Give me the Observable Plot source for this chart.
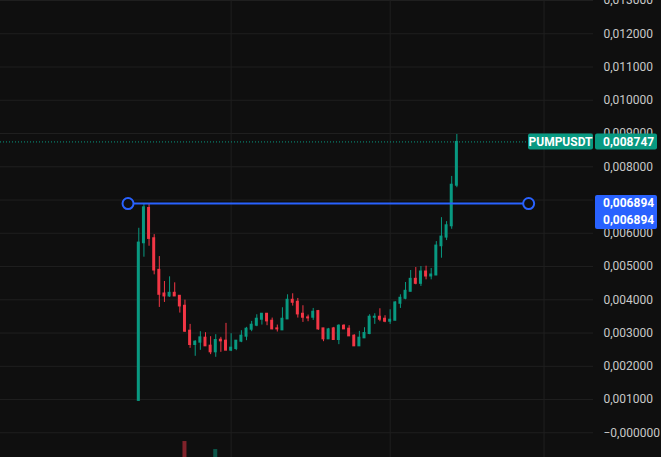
<!DOCTYPE html>
<html>
<head>
<meta charset="utf-8">
<script src="https://cdn.jsdelivr.net/npm/d3@7"></script>
<script src="https://cdn.jsdelivr.net/npm/@observablehq/plot@0.6"></script>
<style>
  html, body { margin: 0; padding: 0; background: #0f0f0f; }
  #chart { width: 661px; height: 457px; overflow: hidden; }
  svg { display: block; }
</style>
</head>
<body>
<div id="chart"></div>
<script>
// ---- Data (daily candles, prices in USDT) ----
const symbol = "PUMPUSDT";
const opens  = [0.00096,0.00570,0.00676,0.00585,0.00490,0.00419,0.00410,0.00421,0.00412,0.00382,
                0.00307,0.00264,0.00271,0.00286,0.00262,0.00242,0.00280,0.00277,0.00247,0.00252,
                0.00274,0.00289,0.00310,0.00322,0.00340,0.00358,0.00337,0.00314,0.00308,0.00341,
                0.00400,0.00394,0.00358,0.00347,0.00346,0.00366,0.00314,0.00281,0.00314,0.00279,
                0.00322,0.00313,0.00292,0.00260,0.00284,0.00297,0.00346,0.00349,0.00343,0.00334,
                0.00337,0.00388,0.00403,0.00424,0.00463,0.00448,0.00485,0.00470,0.00473,0.00561,
                0.00587,0.00621,0.00743];
const highs  = [0.00615,0.00689,0.00689,0.00596,0.00530,0.00455,0.00469,0.00451,0.00412,0.00399,
                0.00326,0.00277,0.00304,0.00301,0.00289,0.00295,0.00287,0.00329,0.00298,0.00277,
                0.00307,0.00317,0.00335,0.00355,0.00358,0.00358,0.00345,0.00324,0.00376,0.00415,
                0.00418,0.00404,0.00382,0.00354,0.00374,0.00368,0.00314,0.00314,0.00317,0.00325,
                0.00325,0.00322,0.00295,0.00305,0.00316,0.00355,0.00358,0.00373,0.00352,0.00370,
                0.00394,0.00415,0.00452,0.00488,0.00497,0.00500,0.00501,0.00494,0.00575,0.00647,
                0.00635,0.00771,0.00897];
const lows   = [0.00095,0.00528,0.00561,0.00475,0.00377,0.00392,0.00407,0.00410,0.00360,0.00302,
                0.00254,0.00230,0.00248,0.00260,0.00235,0.00227,0.00242,0.00247,0.00244,0.00247,
                0.00271,0.00277,0.00304,0.00319,0.00324,0.00322,0.00310,0.00303,0.00308,0.00341,
                0.00381,0.00345,0.00332,0.00334,0.00338,0.00308,0.00274,0.00281,0.00279,0.00265,
                0.00311,0.00290,0.00260,0.00260,0.00284,0.00295,0.00326,0.00334,0.00331,0.00326,
                0.00337,0.00374,0.00400,0.00424,0.00445,0.00440,0.00460,0.00460,0.00473,0.00525,
                0.00578,0.00612,0.00737];
const closes = [0.00572,0.00678,0.00583,0.00488,0.00415,0.00410,0.00421,0.00410,0.00380,0.00304,
                0.00264,0.00274,0.00287,0.00260,0.00242,0.00279,0.00275,0.00247,0.00256,0.00277,
                0.00292,0.00313,0.00325,0.00343,0.00358,0.00335,0.00311,0.00311,0.00343,0.00400,
                0.00391,0.00356,0.00346,0.00344,0.00364,0.00311,0.00281,0.00311,0.00279,0.00322,
                0.00311,0.00290,0.00260,0.00286,0.00300,0.00349,0.00349,0.00340,0.00334,0.00340,
                0.00392,0.00406,0.00427,0.00463,0.00448,0.00485,0.00470,0.00476,0.00563,0.00590,
                0.00624,0.00746,0.008747];
// volume overlay (only the bars that rise into view), in price-scale units above the pane bottom
const volumeIndex = [9, 15];
const volumeValue = [0.00048, 0.00024];
// month boundaries (candle index of the 1st of Aug, Sep, Oct)
const monthGridIndex = [18, 49, 79];
// horizontal line drawing tool
const hLinePrice = 0.006894;
const hLineAnchors = [-2.1, 76];
// price axis
const tickValues = [0,0.001,0.002,0.003,0.004,0.005,0.006,0.007,0.008,0.009,0.010,0.011,0.012,0.013];
const tickLabels = ["\u22120,000000","0,001000","0,002000","0,003000","0,004000","0,005000","0,006000",
                    "0,007000","0,008000","0,009000","0,010000","0,011000","0,012000","0,013000"];

// ---- Build table ----
const candles = opens.map((o, i) => ({
  i, open: o, high: highs[i], low: lows[i], close: closes[i], up: closes[i] >= o
}));
const lastClose = closes[closes.length - 1];
const volumes = volumeIndex.map((idx, k) => ({i: idx, v: volumeValue[k], up: candles[idx].up}));
const hLine = hLineAnchors.map(i => ({i, p: hLinePrice}));

const GREEN = "#089981", RED = "#f23645", BLUE = "#2962ff", BG = "#0f0f0f";
const yMin = -0.000743, yMax = 0.013;

const plot = Plot.plot({
  width: 661,
  height: 457,
  marginLeft: 0,
  marginRight: 68,
  marginTop: 0,
  marginBottom: 0,
  style: {background: BG, fontFamily: "Roboto, 'Liberation Sans', sans-serif", fontSize: "12px", overflow: "visible"},
  x: {type: "linear", domain: [-26.96, 88.64], axis: null},
  y: {type: "linear", domain: [yMin, yMax], axis: null},
  marks: [
    Plot.ruleY(tickValues, {stroke: "#1f1f1f", strokeWidth: 1}),
    Plot.ruleX(monthGridIndex, {stroke: "#1f1f1f", strokeWidth: 1}),
    Plot.rect(volumes, {
      x1: d => d.i - 0.39, x2: d => d.i + 0.39,
      y1: yMin, y2: d => yMin + d.v,
      fill: d => d.up ? GREEN : RED, fillOpacity: 0.5, inset: 0
    }),
    Plot.ruleY([lastClose], {stroke: GREEN, strokeWidth: 1, strokeDasharray: "1,2"}),
    Plot.ruleX(candles, {x: "i", y1: "low", y2: "high", stroke: d => d.up ? GREEN : RED, strokeWidth: 1}),
    Plot.rect(candles, {
      x1: d => d.i - 0.29, x2: d => d.i + 0.29,
      y1: "open", y2: "close",
      fill: d => d.up ? GREEN : RED,
      inset: 0, insetTop: -0.5, insetBottom: -0.5
    }),
    Plot.line(hLine, {x: "i", y: "p", stroke: BLUE, strokeWidth: 2}),
    Plot.dot(hLine, {x: "i", y: "p", r: 5.5, stroke: BLUE, strokeWidth: 2, fill: BG}),
    Plot.axisY({
      anchor: "right",
      ticks: tickValues,
      tickFormat: d => tickLabels[tickValues.indexOf(d)],
      tickSize: 0,
      tickPadding: 10,
      textAnchor: "start",
      fill: "#c8c8c8",
      fontSize: 12
    })
  ]
});

document.getElementById("chart").appendChild(plot);

// ---- Price-axis labels, placed with the plot's y scale ----
const y = plot.scale("y");
const svg = d3.select(plot);
const g = svg.append("g").attr("font-family", "Roboto, 'Liberation Sans', sans-serif").attr("font-size", 12);

function box(x, yTop, w, h, fill) {
  g.append("rect").attr("x", x).attr("y", yTop).attr("width", w).attr("height", h)
    .attr("rx", 2).attr("fill", fill);
}
function label(x, yc, text, anchor, weight) {
  g.append("text").attr("x", x).attr("y", yc).attr("dy", "0.36em")
    .attr("text-anchor", anchor).attr("fill", "#ffffff").attr("font-weight", weight || "normal")
    .text(text);
}
const yc = y.apply(lastClose);
box(528, yc - 8, 65, 16, GREEN);
label(560.5, yc, symbol, "middle", "bold");
box(595, yc - 8, 62, 16, GREEN);
label(603, yc, tickLabels[0].length ? lastClose.toFixed(6).replace(".", ",") : "", "start", "bold");

const yl = y.apply(hLinePrice);
box(595, yl - 8, 62, 34, BLUE);
const hl = hLinePrice.toFixed(6).replace(".", ",");
label(603, yl, hl, "start", "bold");
label(603, yl + 17, hl, "start", "bold");
</script>
</body>
</html>
